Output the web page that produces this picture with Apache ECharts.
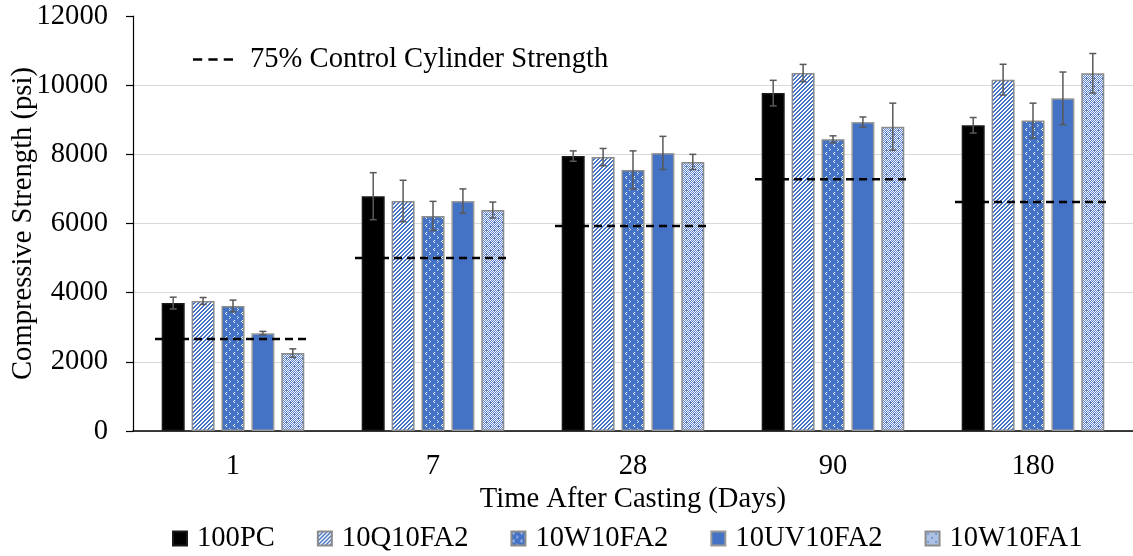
<!DOCTYPE html>
<html>
<head>
<meta charset="utf-8">
<script src="https://cdn.jsdelivr.net/npm/echarts@6/dist/echarts.min.js"></script>
<style>
  html, body { margin: 0; padding: 0; background: #fff; }
  #chart { width: 1133px; height: 556px; }
</style>
</head>
<body>
<div id="chart"></div>
<script>
// Compressive strength (psi) at each age, one array per mix
const categories = ['1', '7', '28', '90', '180'];
const pc100   = [3700, 6790, 7950, 9770, 8840];
const q10fa2  = [3760, 6650, 7920, 10350, 10160];
const w10fa2  = [3615, 6220, 7550, 8435, 8975];
const uv10fa2 = [2830, 6650, 8040, 8935, 9620];
const w10fa1  = [2255, 6390, 7780, 8800, 10345];

// Standard deviations (psi)
const pc100Err   = [170, 680, 150, 370, 225];
const q10fa2Err  = [100, 600, 250, 250, 445];
const w10fa2Err  = [170, 420, 550, 100, 505];
const uv10fa2Err = [50, 350, 480, 145, 760];
const w10fa1Err  = [120, 230, 220, 680, 570];

// 75% of the control cylinder strength at each age
const control75 = [2660, 5000, 5930, 7280, 6620];

const yTicks = [0, 2000, 4000, 6000, 8000, 10000, 12000];

const FONT = 'Liberation Serif';
const FONT_SIZE = 28.6;
const BLUE = '#4472C4';
const CAT_GAP = 0.287;
const BAR_GAP = 0.3;
const N_BARS = 5;

// Small repeating fills for the bars
function tile(size, paint) {
  const c = document.createElement('canvas');
  c.width = size; c.height = size;
  const ctx = c.getContext('2d');
  paint(ctx, size);
  return { image: c, repeat: 'repeat' };
}
function px(ctx, x, y, color) { ctx.fillStyle = color; ctx.fillRect(x, y, 1, 1); }

const fillStripes = tile(8, (ctx, s) => {
  ctx.fillStyle = '#fff'; ctx.fillRect(0, 0, s, s);
  for (let y = 0; y < s; y++) for (let x = 0; x < s; x++) {
    if ((x + y) % 4 < 2) px(ctx, x, y, BLUE);
  }
});
const fillDivot = tile(8, (ctx, s) => {
  ctx.fillStyle = BLUE; ctx.fillRect(0, 0, s, s);
  [[2, 0], [1, 1], [2, 2]].forEach(p => px(ctx, p[0], p[1], '#ffffff'));
  [[5, 4], [6, 5], [5, 6]].forEach(p => px(ctx, p[0], p[1], '#c9d6f0'));
});
const fillChecker = tile(8, (ctx, s) => {
  for (let y = 0; y < s; y++) for (let x = 0; x < s; x++) {
    px(ctx, x, y, (x + y) % 2 ? '#5b83cc' : '#ffffff');
  }
  [[2, 1], [2, 2], [6, 5], [6, 6]].forEach(p => px(ctx, p[0], p[1], BLUE));
});

const mixes = [
  { name: '100PC',     values: pc100,   errs: pc100Err,   color: '#000000', border: '#1a1a1a' },
  { name: '10Q10FA2',  values: q10fa2,  errs: q10fa2Err,  color: fillStripes, border: '#8c8c8c' },
  { name: '10W10FA2',  values: w10fa2,  errs: w10fa2Err,  color: fillDivot, border: '#8c8c8c' },
  { name: '10UV10FA2', values: uv10fa2, errs: uv10fa2Err, color: BLUE, border: '#9a9a9a' },
  { name: '10W10FA1',  values: w10fa1,  errs: w10fa1Err,  color: fillChecker, border: '#8c8c8c' }
];

function barOffset(api, k) {
  const band = api.size([1, 0])[0];
  const bw = band * (1 - CAT_GAP) / (N_BARS + (N_BARS - 1) * BAR_GAP);
  return (k - (N_BARS - 1) / 2) * bw * (1 + BAR_GAP);
}

const barSeries = mixes.map(m => ({
  name: m.name,
  type: 'bar',
  data: m.values,
  barCategoryGap: (CAT_GAP * 100) + '%',
  barGap: (BAR_GAP * 100) + '%',
  itemStyle: { color: m.color, borderColor: m.border, borderWidth: 1.5 },
  emphasis: { disabled: true },
  z: 2
}));

const errSeries = mixes.map((m, k) => ({
  name: m.name + ' err',
  type: 'custom',
  data: m.values.map((v, i) => [i, v, m.errs[i]]),
  z: 4,
  silent: true,
  renderItem: (params, api) => {
    const i = api.value(0), v = api.value(1), e = api.value(2);
    const hi = api.coord([i, v + e]);
    const lo = api.coord([i, v - e]);
    const x = hi[0] + barOffset(api, k);
    const cap = 3.5;
    const style = { stroke: '#595959', lineWidth: 1.5, fill: null };
    return {
      type: 'group',
      children: [
        { type: 'line', shape: { x1: x, y1: hi[1], x2: x, y2: lo[1] }, style },
        { type: 'line', shape: { x1: x - cap, y1: hi[1], x2: x + cap, y2: hi[1] }, style },
        { type: 'line', shape: { x1: x - cap, y1: lo[1], x2: x + cap, y2: lo[1] }, style }
      ]
    };
  }
}));

const controlSeries = {
  name: '75% Control Cylinder Strength',
  type: 'custom',
  data: control75.map((v, i) => [i, v]),
  itemStyle: { color: '#000' },
  z: 5,
  silent: true,
  renderItem: (params, api) => {
    const i = api.value(0), v = api.value(1);
    const p = api.coord([i, v]);
    const half = api.size([1, 0])[0] * 0.39;
    return {
      type: 'line',
      shape: { x1: p[0] - half, y1: p[1], x2: p[0] + half, y2: p[1] },
      style: { stroke: '#000', lineWidth: 2.5, lineDash: [8, 5], fill: null }
    };
  }
};

const chart = echarts.init(document.getElementById('chart'), null, { renderer: 'canvas' });
chart.setOption({
  animation: false,
  backgroundColor: '#fff',
  textStyle: { fontFamily: FONT, color: '#000' },
  grid: { left: 133, right: 0, top: 16, bottom: 125, containLabel: false, outerBoundsMode: 'none' },
  legend: [
    {
      data: mixes.map(m => m.name),
      top: 519,
      left: 167,
      icon: 'rect',
      itemWidth: 14,
      itemHeight: 14,
      itemGap: 42,
      textStyle: { fontFamily: FONT, fontSize: FONT_SIZE, color: '#000', padding: [0, 0, 0, 5] },
      selectedMode: false
    },
    {
      data: ['75% Control Cylinder Strength'],
      left: 188,
      top: 40,
      icon: 'path://M0,0h9v2.5h-9z M15,0h9v2.5h-9z M30,0h9v2.5h-9z',
      itemWidth: 40,
      itemHeight: 3,
      itemGap: 0,
      textStyle: { fontFamily: FONT, fontSize: FONT_SIZE, color: '#000', padding: [0, 0, 0, 12] },
      selectedMode: false
    }
  ],
  xAxis: {
    type: 'category',
    data: categories,
    name: 'Time After Casting (Days)',
    nameLocation: 'middle',
    nameGap: 54,
    nameMoveOverlap: false,
    nameTextStyle: { fontFamily: FONT, fontSize: FONT_SIZE, color: '#000' },
    axisLine: { lineStyle: { color: '#000', width: 1.5 } },
    axisTick: { show: false },
    axisLabel: { fontFamily: FONT, fontSize: FONT_SIZE, color: '#000', margin: 21 },
    splitLine: { show: false }
  },
  yAxis: {
    type: 'value',
    min: yTicks[0],
    max: yTicks[yTicks.length - 1],
    interval: yTicks[1] - yTicks[0],
    name: 'Compressive Strength (psi)',
    nameLocation: 'middle',
    nameGap: 95,
    nameMoveOverlap: false,
    nameTextStyle: { fontFamily: FONT, fontSize: FONT_SIZE, color: '#000' },
    axisLine: { show: true, lineStyle: { color: '#000', width: 1.2 } },
    axisTick: { show: true, length: 7, lineStyle: { color: '#000', width: 1.2 } },
    axisLabel: { fontFamily: FONT, fontSize: FONT_SIZE, color: '#000', margin: 25, formatter: v => String(v) },
    splitLine: { show: true, showMaxLine: false, lineStyle: { color: '#d9d9d9', width: 1.2 } }
  },
  series: [...barSeries, ...errSeries, controlSeries]
});
</script>
</body>
</html>
